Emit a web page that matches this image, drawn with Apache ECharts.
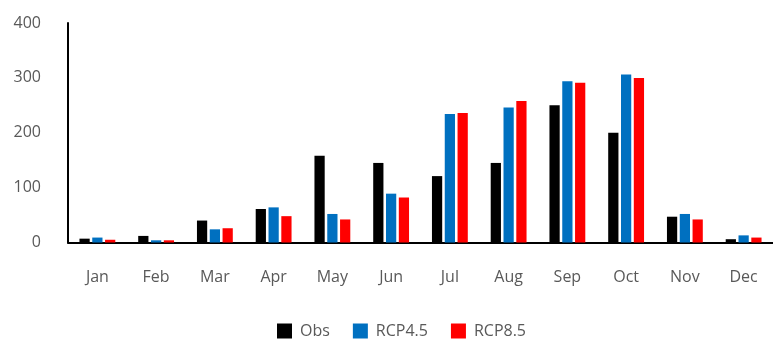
<!DOCTYPE html>
<html>
<head>
<meta charset="utf-8">
<script src="https://cdn.jsdelivr.net/npm/echarts@6/dist/echarts.min.js"></script>
<style>
  html, body { margin: 0; padding: 0; background: #ffffff; }
  #chart { width: 773px; height: 342px; }
</style>
</head>
<body>
<div id="chart"></div>
<script>
// Monthly values: observed and two climate scenarios
const months = ['Jan', 'Feb', 'Mar', 'Apr', 'May', 'Jun', 'Jul', 'Aug', 'Sep', 'Oct', 'Nov', 'Dec'];
const obs    = [7, 12, 40, 61, 158, 145, 121, 145, 250, 200, 47, 6];
const rcp45  = [9, 4, 24, 64, 52, 89, 234, 246, 294, 306, 52, 13];
const rcp85  = [5, 4, 26, 48, 42, 82, 236, 258, 291, 300, 42, 9];
const yTicks = [0, 100, 200, 300, 400];

const textColor = '#595959';
const font = '"Open Sans", "Noto Sans", sans-serif';

function barSeries(name, data, color) {
  return {
    name: name,
    type: 'bar',
    data: data,
    barGap: '25%',
    barCategoryGap: '39%',
    itemStyle: { color: color },
    emphasis: { disabled: true }
  };
}

const chart = echarts.init(document.getElementById('chart'), null, { renderer: 'canvas' });
chart.setOption({
  animation: false,
  backgroundColor: '#ffffff',
  textStyle: { fontFamily: font },
  grid: { left: 68, right: -9, top: 23, bottom: 99.5, containLabel: false },
  legend: {
    left: 272,
    top: 318,
    itemWidth: 15,
    itemHeight: 15,
    itemGap: 23,
    icon: 'rect',
    textStyle: { color: textColor, fontSize: 16, fontFamily: font, padding: [0, 0, 0, 3] },
    data: ['Obs', 'RCP4.5', 'RCP8.5']
  },
  xAxis: {
    type: 'category',
    data: months,
    axisLine: { lineStyle: { color: '#000000', width: 2 } },
    axisTick: { show: false },
    axisLabel: { color: textColor, fontSize: 16, margin: 27, fontFamily: font }
  },
  yAxis: {
    type: 'value',
    min: yTicks[0],
    max: yTicks[yTicks.length - 1],
    interval: yTicks[1] - yTicks[0],
    axisLine: { show: true, lineStyle: { color: '#000000', width: 2 } },
    axisTick: { show: false },
    splitLine: { show: false },
    axisLabel: { color: textColor, fontSize: 16, margin: 27, fontFamily: font }
  },
  series: [
    barSeries('Obs', obs, '#000000'),
    barSeries('RCP4.5', rcp45, '#0070C0'),
    barSeries('RCP8.5', rcp85, '#FF0000')
  ]
});
</script>
</body>
</html>
